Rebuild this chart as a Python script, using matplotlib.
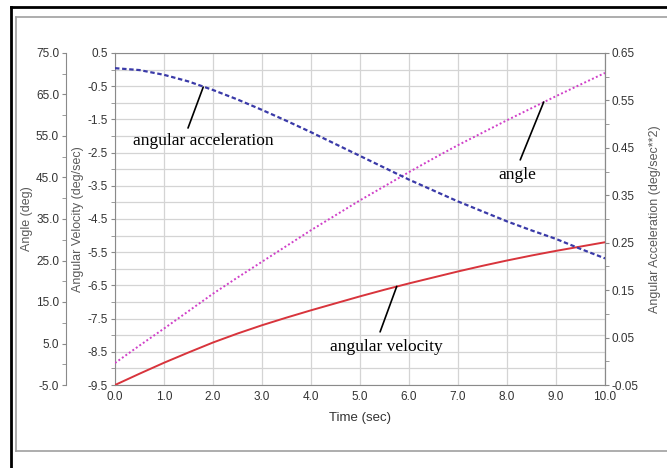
import matplotlib
matplotlib.use('Agg')
import matplotlib.pyplot as plt
from matplotlib.lines import Line2D
from matplotlib.ticker import MultipleLocator, FormatStrFormatter

# data (every half second)
time    = [0.0, 0.5, 1.0, 1.5, 2.0, 2.5, 3.0, 3.5, 4.0, 4.5, 5.0,
           5.5, 6.0, 6.5, 7.0, 7.5, 8.0, 8.5, 9.0, 9.5, 10.0]
ang_vel = [-9.5, -9.16, -8.83, -8.52, -8.22, -7.95, -7.70, -7.47, -7.25, -7.04, -6.83,
           -6.63, -6.44, -6.26, -6.08, -5.91, -5.75, -5.60, -5.46, -5.33, -5.2]
angle   = [0.3, 4.5, 8.6, 12.8, 17.0, 20.9, 24.7, 28.5, 32.3, 35.9, 39.5,
           42.9, 46.3, 49.6, 52.8, 55.8, 58.8, 61.7, 64.6, 67.4, 70.2]
ang_acc = [0.618, 0.614, 0.604, 0.590, 0.572, 0.552, 0.530, 0.507, 0.483, 0.458, 0.433,
           0.408, 0.383, 0.360, 0.337, 0.316, 0.295, 0.276, 0.258, 0.237, 0.217]

tick_font = ['Liberation Sans Narrow', 'Liberation Sans', 'DejaVu Sans']
label_font = ['Liberation Sans', 'DejaVu Sans']
note_font = ['Liberation Serif', 'DejaVu Serif']

grey = '#8a8a8a'
txt = '#333333'
lab = '#5a5a5a'
tsize = 8.5

fig = plt.figure(figsize=(6.67, 4.68), dpi=100)

# outer screenshot frame
fig.add_artist(Line2D([11/667, 1.0], [1-7/468, 1-7/468], color='black', lw=2.0))
fig.add_artist(Line2D([11/667, 11/667], [0.0, 1-7/468], color='black', lw=2.0))
fig.add_artist(Line2D([16/667, 1.0], [1-17/468, 1-17/468], color='#a0a0a0', lw=1.2))
fig.add_artist(Line2D([16/667, 1.0], [1-451/468, 1-451/468], color='#a0a0a0', lw=1.2))
fig.add_artist(Line2D([16/667, 16/667], [1-451/468, 1-17/468], color='#a0a0a0', lw=1.2))

ax = fig.add_axes([115/667, 1-385/468, 490/667, 332/468])
ax_ang = ax.twinx()
ax_acc = ax.twinx()

# main axis: angular velocity
ax.set_xlim(0, 10)
ax.set_ylim(-9.5, 0.5)
ax.xaxis.set_major_locator(MultipleLocator(1.0))
ax.xaxis.set_major_formatter(FormatStrFormatter('%.1f'))
ax.yaxis.set_major_locator(MultipleLocator(1.0, offset=0.5))
ax.yaxis.set_minor_locator(MultipleLocator(0.5))
ax.yaxis.set_major_formatter(FormatStrFormatter('%.1f'))
ax.grid(which='both', axis='y', color='#d4d4d4', lw=0.9)
ax.grid(which='major', axis='x', color='#d4d4d4', lw=0.9)
ax.set_axisbelow(True)
for s in ax.spines.values():
  s.set_color(grey)
ax.tick_params(axis='both', which='both', colors=grey, labelcolor=txt, labelsize=tsize,
               length=3, pad=2)
ax.tick_params(axis='x', length=0, pad=4)
for t in ax.get_xticklabels() + ax.get_yticklabels():
  t.set_family(tick_font)
ax.set_xlabel('Time (sec)', family=tick_font, fontsize=9.5, color=txt, labelpad=7)
ax.set_ylabel('Angular Velocity (deg/sec)', family=label_font, fontsize=9, color=lab)
ax.yaxis.set_label_coords((78 - 115) / 490, 0.5)
ax.yaxis.label.set_va('center')
ax.plot(time, ang_vel, '-', color='#d8343c', lw=1.4, zorder=3)

# angle axis, offset to the left
ax_ang.spines['left'].set_position(('axes', (66 - 115) / 490))
ax_ang.spines['left'].set_visible(True)
ax_ang.spines['right'].set_visible(False)
ax_ang.spines['top'].set_visible(False)
ax_ang.spines['bottom'].set_visible(False)
ax_ang.spines['left'].set_color(grey)
ax_ang.yaxis.set_label_position('left')
ax_ang.yaxis.set_ticks_position('left')
ax_ang.set_ylim(-5, 75)
ax_ang.yaxis.set_major_locator(MultipleLocator(10, offset=5))
ax_ang.yaxis.set_minor_locator(MultipleLocator(5))
ax_ang.yaxis.set_major_formatter(FormatStrFormatter('%.1f'))
ax_ang.tick_params(axis='y', which='both', colors=grey, labelcolor=txt, labelsize=tsize,
                   length=3, pad=2)
for t in ax_ang.get_yticklabels():
  t.set_family(tick_font)
ax_ang.set_ylabel('Angle (deg)', family=label_font, fontsize=9, color=lab)
ax_ang.yaxis.set_label_coords((27 - 115) / 490, 0.5)
ax_ang.yaxis.label.set_va('center')
ax_ang.plot(time, angle, linestyle=(0, (1, 1.2)), color='#d040c8', lw=1.4, zorder=3)

# acceleration axis on the right
for side in ['left', 'top', 'bottom']:
  ax_acc.spines[side].set_visible(False)
ax_acc.spines['right'].set_color(grey)
ax_acc.set_ylim(-0.05, 0.65)
ax_acc.yaxis.set_major_locator(MultipleLocator(0.1, offset=0.05))
ax_acc.yaxis.set_minor_locator(MultipleLocator(0.05))
ax_acc.yaxis.set_major_formatter(FormatStrFormatter('%.2f'))
ax_acc.tick_params(axis='y', which='both', colors=grey, labelcolor=txt, labelsize=tsize,
                   length=3, pad=2)
for t in ax_acc.get_yticklabels():
  t.set_family(tick_font)
ax_acc.set_ylabel('Angular Acceleration (deg/sec**2)', family=label_font, fontsize=9,
                  color=lab, rotation=90)
ax_acc.yaxis.set_label_coords((655 - 115) / 490, 0.5)
ax_acc.yaxis.label.set_va('center')
ax_acc.plot(time, ang_acc, linestyle=(0, (2.0, 1.2)), color='#3a3aa8', lw=1.6, zorder=3)

# hand drawn notes
line_kw = dict(arrowstyle='-', color='black', lw=1.2, shrinkA=0, shrinkB=0)
ax_acc.annotate('', xy=(1.8, 0.578), xycoords=ax_acc.transData,
                xytext=(1.49, -1.76), textcoords=ax.transData, arrowprops=line_kw)
ax_acc.text(1.8, -2.15, 'angular acceleration', transform=ax.transData, family=note_font,
            fontsize=12.5, ha='center', va='center', color='black')
ax_acc.annotate('', xy=(8.75, 63.2), xycoords=ax_ang.transData,
                xytext=(8.27, -2.72), textcoords=ax.transData, arrowprops=line_kw)
ax_acc.text(8.22, -3.17, 'angle', transform=ax.transData, family=note_font,
            fontsize=12.5, ha='center', va='center', color='black')
ax_acc.annotate('', xy=(5.75, -6.53), xycoords=ax.transData,
                xytext=(5.41, -7.9), textcoords=ax.transData, arrowprops=line_kw)
ax_acc.text(5.53, -8.36, 'angular velocity', transform=ax.transData, family=note_font,
            fontsize=12.5, ha='center', va='center', color='black')

fig.savefig('out.png', dpi=100)
